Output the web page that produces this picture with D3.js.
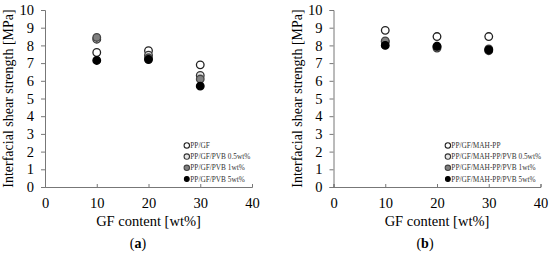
<!DOCTYPE html>
<html>
<head>
<meta charset="utf-8">
<script src="https://cdn.jsdelivr.net/npm/d3@7"></script>
<style>
  body { margin: 0; background: #fff; }
  svg text { font-family: "Liberation Serif", "Times New Roman", serif; fill: #000; }
</style>
</head>
<body>
<div id="chart"></div>
<script>
// data
var gfContent = [10, 20, 30];
var xTicks = [0, 10, 20, 30, 40];
var yTicks = [0, 1, 2, 3, 4, 5, 6, 7, 8, 9, 10];

var namesA = ["PP/GF", "PP/GF/PVB 0.5wt%", "PP/GF/PVB 1wt%", "PP/GF/PVB 5wt%"];
var ppGF        = [7.6, 7.7, 6.9];
var ppGFPVB05   = [8.35, 7.45, 6.3];
var ppGFPVB1    = [8.45, 7.3, 6.1];
var ppGFPVB5    = [7.15, 7.2, 5.7];

var namesB = ["PP/GF/MAH-PP", "PP/GF/MAH-PP/PVB 0.5wt%", "PP/GF/MAH-PP/PVB 1wt%", "PP/GF/MAH-PP/PVB 5wt%"];
var mahPP       = [8.85, 8.5, 8.5];
var mahPPPVB05  = [8.2, 7.85, 7.7];
var mahPPPVB1   = [8.25, 7.95, 7.8];
var mahPPPVB5   = [8.0, 7.95, 7.75];

// marker fills for the four series
var fills = ["#ffffff", "#e6e6e6", "#808080", "#000000"];
var strokes = ["#222", "#333", "#444", "#000"];

var svg = d3.select("#chart").append("svg")
  .attr("width", 550)
  .attr("height", 257);

function drawPanel(left, names, series, tag, tagX, legAt) {
  var top = 10, bottom = 187, right = left + 207;
  var x = d3.scaleLinear().domain([0, 40]).range([left, right]);
  var y = d3.scaleLinear().domain([0, 10]).range([bottom, top]);
  var g = svg.append("g").attr("font-family", "Liberation Serif, serif");

  // y axis
  var yAxis = g.append("g")
    .attr("transform", "translate(" + left + ",0)")
    .call(d3.axisLeft(y).tickValues(yTicks).tickSize(4).tickPadding(7).tickFormat(d3.format("d")));
  yAxis.attr("font-family", null);
  yAxis.selectAll("text").style("font-size", "14.5px");

  // x axis
  var xAxis = g.append("g")
    .attr("transform", "translate(0," + bottom + ")")
    .call(d3.axisBottom(x).tickValues(xTicks).tickSize(-3).tickPadding(8));
  xAxis.attr("font-family", null);
  xAxis.selectAll("text").style("font-size", "14.5px").attr("dy", "0.9em");

  g.selectAll(".domain, .tick line").attr("stroke", "#777");

  // titles
  g.append("text")
    .attr("transform", "translate(" + (left - 32) + "," + ((top + bottom) / 2) + ") rotate(-90)")
    .attr("text-anchor", "middle")
    .style("font-size", "14px")
    .text("Interfacial shear strength [MPa]");
  g.append("text")
    .attr("x", (left + right) / 2)
    .attr("y", 226)
    .attr("text-anchor", "middle")
    .style("font-size", "14.5px")
    .text("GF content [wt%]");
  var lab = g.append("text")
    .attr("x", tagX)
    .attr("y", 248)
    .attr("text-anchor", "middle")
    .style("font-size", "14px");
  lab.append("tspan").text("(");
  lab.append("tspan").style("font-weight", "bold").text(tag);
  lab.append("tspan").text(")");

  // points
  series.forEach(function(vals, s) {
    g.selectAll(null)
      .data(vals)
      .enter()
      .append("circle")
      .attr("cx", function(d, i) { return x(gfContent[i]); })
      .attr("cy", function(d) { return y(d); })
      .attr("r", 3.8)
      .attr("fill", fills[s])
      .attr("stroke", strokes[s])
      .attr("stroke-width", 1.3);
  });

  // legend
  var legX = x(legAt), legY = y(2.35);
  names.forEach(function(n, s) {
    var row = g.append("g").attr("transform", "translate(" + legX + "," + (legY + s * 11.2) + ")");
    row.append("circle")
      .attr("r", s == 3 ? 2.4 : 2.7)
      .attr("fill", fills[s])
      .attr("stroke", strokes[s])
      .attr("stroke-width", 1.1);
    row.append("text")
      .attr("x", 3.5)
      .attr("y", 2.5)
      .style("font-size", "7.3px")
      .style("fill", "#333")
      .text(n);
  });
}

drawPanel(45, namesA, [ppGF, ppGFPVB05, ppGFPVB1, ppGFPVB5], "a", 138, 27.4);
drawPanel(333.5, namesB, [mahPP, mahPPPVB05, mahPPPVB1, mahPPPVB5], "b", 425, 22.1);
</script>
</body>
</html>
